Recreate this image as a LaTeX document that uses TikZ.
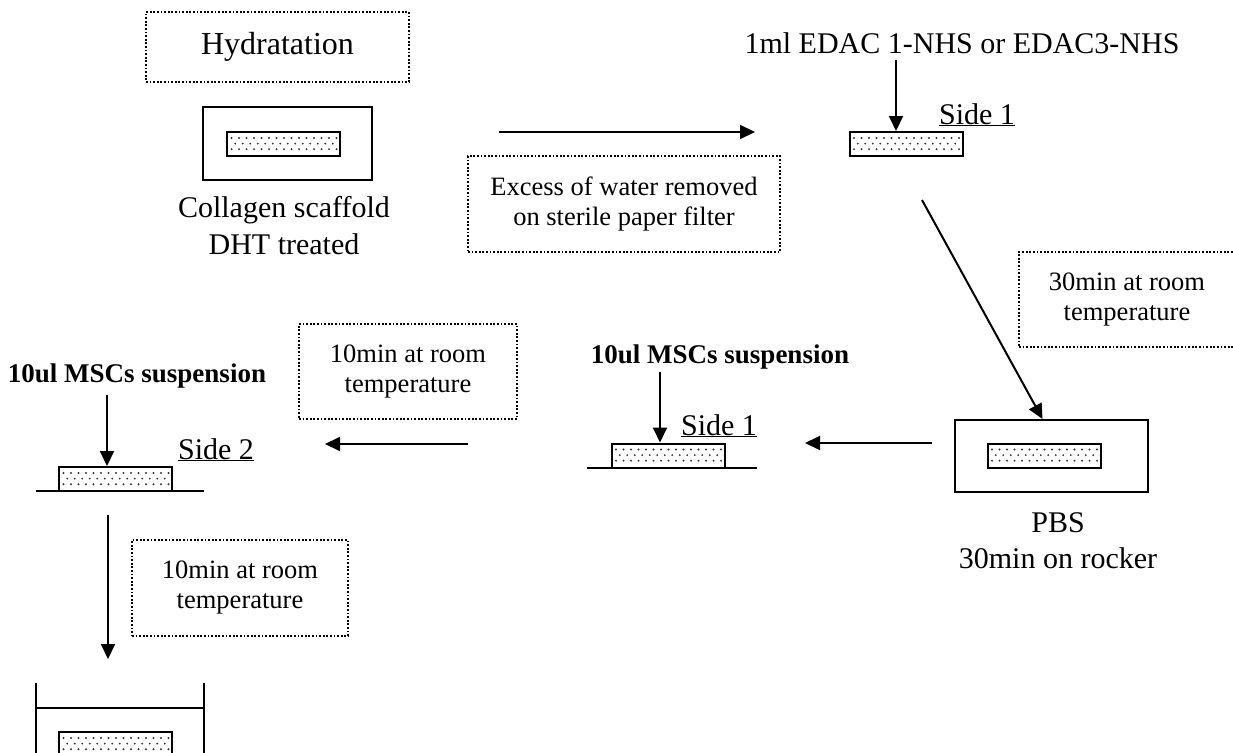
\documentclass[tikz,border=0pt]{standalone}
\usepackage{fontspec}
\setmainfont{Liberation Serif}
\usetikzlibrary{arrows.meta,calc}

\tikzset{
  big/.style={font=\fontsize{30}{34}\selectfont},
  title/.style={font=\fontsize{32}{36}\selectfont},
  small/.style={font=\fontsize{26.5}{30}\selectfont},
  boldtxt/.style={font=\fontsize{27}{30}\selectfont\bfseries},
  note/.style={draw, line width=1.8pt, dash pattern=on 1.8pt off 1.8pt,
    align=center, inner sep=0pt, small},
  tray/.style={draw, line width=2pt, inner sep=0pt},
  scaffold/.style={draw, line width=2pt, inner sep=0pt,
    minimum width=113pt, minimum height=24pt,
    path picture={
      \foreach \r in {0,1,2}{
        \foreach \c in {0,...,15}{
          \fill[black!80] ($(path picture bounding box.north west)
            +({4.5+7.5*\c+3.75*mod(\r,2)},{6+5.6*\r})$) circle (1.05pt);
        }
      }
    }},
  flow/.style={line width=2pt, -{Triangle[length=15pt,width=14pt]}},
  ground/.style={line width=2pt},
}

\begin{document}
\begin{tikzpicture}[x=1pt,y=-1pt]
\useasboundingbox (0,0) rectangle (1233,752);
\clip (0,0) rectangle (1233,752);

% step 1: hydration of the DHT treated scaffold
\node[note, title, minimum width=263pt, minimum height=70pt] (hyd) at (277.5,47) {Hydratation};
\node[tray, minimum width=169pt, minimum height=73pt] (tray1) at (287.5,143.5) {};
\node[scaffold] (scaf1) at (283.5,144) {};
\node[big, anchor=base] (lab1a) at (284,217) {Collagen scaffold};
\node[big, anchor=base] (lab1b) at (284,254) {DHT treated};

% blotting on paper filter
\coordinate (a1s) at (499,132);
\coordinate (a1e) at (755,132);
\draw[flow] (a1s) -- (a1e);
\node[note, minimum width=312pt, minimum height=96pt] (excess) at (624,204)
  {Excess of water removed\\on sterile paper filter};

% step 2: crosslinker on side 1
\node[big, anchor=base] (edac) at (962,53) {1ml EDAC 1-NHS or EDAC3-NHS};
\node[scaffold] (scaf2) at (906,144) {};
\coordinate (edacdrop) at (896,60);
\draw[flow] (edacdrop) -- (scaf2.north -| edacdrop);
\node[big, anchor=base] (side1a) at (977,124) {\underline{Side 1}};

% incubation, then rinse in PBS
\node[note, minimum width=216pt, minimum height=95pt] (wait30) at (1127,299.5)
  {30min at room\\temperature};
\node[tray, minimum width=193pt, minimum height=72pt] (tray2) at (1051.5,456) {};
\node[scaffold] (scaf3) at (1044,455.5) {};
\node[big, anchor=base] (pbs) at (1058,532) {PBS};
\node[big, anchor=base] (rocker) at (1058,568) {30min on rocker};
\coordinate (diagS) at (922,200);
\draw[flow] (diagS) -- ($(tray2.north)+(-9,0)$);

% step 3: cells seeded on side 1
\coordinate (a3s) at (932,443);
\coordinate (a3e) at (805,443);
\draw[flow] (a3s) -- (a3e);
\node[scaffold] (scaf4) at (668,455.5) {};
\coordinate (g4l) at (587,468);
\coordinate (g4r) at (757,468);
\draw[ground] (g4l) -- (g4r);
\node[boldtxt, anchor=base] (msc1) at (720,363) {10ul MSCs suspension};
\coordinate (msc1drop) at (660,372);
\draw[flow] (msc1drop) -- (scaf4.north -| msc1drop);
\node[big, anchor=base] (side1b) at (719,435) {\underline{Side 1}};

% step 4: cells seeded on side 2
\node[note, minimum width=218pt, minimum height=95pt] (wait10a) at (408,371.5)
  {10min at room\\temperature};
\coordinate (a4s) at (468,444);
\coordinate (a4e) at (325,444);
\draw[flow] (a4s) -- (a4e);
\node[scaffold] (scaf5) at (115.5,479) {};
\coordinate (g5l) at (36,491);
\coordinate (g5r) at (204,491);
\draw[ground] (g5l) -- (g5r);
\node[boldtxt, anchor=base] (msc2) at (137,382) {10ul MSCs suspension};
\coordinate (msc2drop) at (107,395);
\draw[flow] (msc2drop) -- (scaf5.north -| msc2drop);
\node[big, anchor=base] (side2) at (216,459) {\underline{Side 2}};

% step 5: transfer to the culture well
\coordinate (a5s) at (108,515);
\coordinate (a5e) at (108,659);
\draw[flow] (a5s) -- (a5e);
\node[note, minimum width=216pt, minimum height=96pt] (wait10b) at (240,588)
  {10min at room\\temperature};
\coordinate (wl) at (36,683);
\coordinate (wr) at (204,683);
\draw[ground] (wl) -- (36,760);
\draw[ground] (wr) -- (204,760);
\draw[ground] ($(wl)+(0,25)$) -- ($(wr)+(0,25)$);
\node[scaffold] (scaf6) at (115.5,744) {};
\end{tikzpicture}
\end{document}
